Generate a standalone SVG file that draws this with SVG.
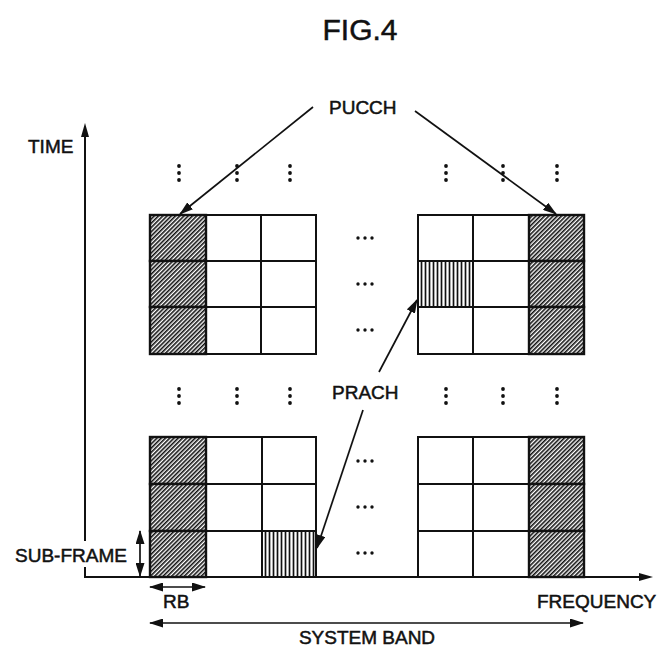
<svg xmlns="http://www.w3.org/2000/svg" width="658" height="648" viewBox="0 0 658 648">
<style>
text{font-family:"Liberation Sans",Arial,sans-serif;fill:#111;stroke:#111;stroke-width:0.5;}
.lbl{font-size:19px;}
.cell{fill:#fff;stroke:#111;stroke-width:2;}
.pucch{fill:url(#hatch);stroke:#111;stroke-width:2.4;}
.prach{fill:url(#vstripe);stroke:#111;stroke-width:2;}
.axis{stroke:#111;stroke-width:2;fill:none;}
.conn{stroke:#111;stroke-width:1.7;fill:none;}
.dot{fill:#111;}
</style>
<defs>
<pattern id="hatch" patternUnits="userSpaceOnUse" width="3" height="3" patternTransform="rotate(45)">
<rect width="3" height="3" fill="#fff"/>
<line x1="0.8" y1="0" x2="0.8" y2="3" stroke="#111" stroke-width="1.6"/>
</pattern>
<pattern id="vstripe" patternUnits="userSpaceOnUse" width="4" height="4">
<rect width="4" height="4" fill="#fff"/>
<line x1="1.5" y1="0" x2="1.5" y2="4" stroke="#111" stroke-width="1.7"/>
</pattern>
<marker id="ah" markerWidth="14" markerHeight="9" refX="13" refY="4.5" orient="auto" markerUnits="userSpaceOnUse">
<path d="M0,0 L14,4.5 L0,9 Z" fill="#111"/>
</marker>
<marker id="ahs" markerWidth="14" markerHeight="9" refX="1" refY="4.5" orient="auto" markerUnits="userSpaceOnUse">
<path d="M14,0 L0,4.5 L14,9 Z" fill="#111"/>
</marker>
<g id="vdots"><circle cx="0" cy="0" r="1.9" class="dot"/><circle cx="0" cy="7" r="1.9" class="dot"/><circle cx="0" cy="14" r="1.9" class="dot"/></g>
<g id="hdots"><circle cx="0" cy="0" r="1.7" class="dot"/><circle cx="7" cy="0" r="1.7" class="dot"/><circle cx="14" cy="0" r="1.7" class="dot"/></g>
</defs>
<rect width="658" height="648" fill="#fff"/>

<text x="360" y="40" font-size="30" text-anchor="middle">FIG.4</text>

<!-- axes -->
<g id="axes">
<line class="axis" x1="85" y1="130" x2="85" y2="541"/>
<line class="axis" x1="85" y1="567" x2="85" y2="577"/>
<path d="M85,123 L81,137 L89,137 Z" fill="#111"/>
<line class="axis" x1="84" y1="577" x2="645" y2="577"/>
<path d="M653,577 L639,573 L639,581 Z" fill="#111"/>
<text class="lbl" x="28" y="153">TIME</text>
<text class="lbl" x="537" y="608">FREQUENCY</text>
</g>

<!-- top-left grid -->
<g id="grid-top-left">
<rect class="cell" x="206" y="215" width="55" height="46"/>
<rect class="cell" x="261" y="215" width="55" height="46"/>
<rect class="cell" x="206" y="261" width="55" height="46"/>
<rect class="cell" x="261" y="261" width="55" height="46"/>
<rect class="cell" x="206" y="307" width="55" height="47"/>
<rect class="cell" x="261" y="307" width="55" height="47"/>
<rect class="pucch" x="150" y="215" width="56" height="46"/>
<rect class="pucch" x="150" y="261" width="56" height="46"/>
<rect class="pucch" x="150" y="307" width="56" height="47"/>
</g>

<!-- top-right grid -->
<g id="grid-top-right">
<rect class="cell" x="418" y="215" width="55" height="46"/>
<rect class="cell" x="473" y="215" width="56" height="46"/>
<rect class="cell" x="473" y="261" width="56" height="46"/>
<rect class="cell" x="418" y="307" width="55" height="47"/>
<rect class="cell" x="473" y="307" width="56" height="47"/>
<rect class="prach" x="418" y="261" width="55" height="46"/>
<rect class="pucch" x="529" y="215" width="55" height="46"/>
<rect class="pucch" x="529" y="261" width="55" height="46"/>
<rect class="pucch" x="529" y="307" width="55" height="47"/>
</g>

<!-- bottom-left grid -->
<g id="grid-bottom-left">
<rect class="cell" x="206" y="437" width="56" height="47"/>
<rect class="cell" x="262" y="437" width="54" height="47"/>
<rect class="cell" x="206" y="484" width="56" height="47"/>
<rect class="cell" x="262" y="484" width="54" height="47"/>
<rect class="cell" x="206" y="531" width="56" height="46"/>
<rect class="prach" x="262" y="531" width="54" height="46"/>
<rect class="pucch" x="150" y="437" width="56" height="47"/>
<rect class="pucch" x="150" y="484" width="56" height="47"/>
<rect class="pucch" x="150" y="531" width="56" height="46"/>
</g>

<!-- bottom-right grid -->
<g id="grid-bottom-right">
<rect class="cell" x="418" y="437" width="55" height="47"/>
<rect class="cell" x="473" y="437" width="56" height="47"/>
<rect class="cell" x="418" y="484" width="55" height="47"/>
<rect class="cell" x="473" y="484" width="56" height="47"/>
<rect class="cell" x="418" y="531" width="55" height="46"/>
<rect class="cell" x="473" y="531" width="56" height="46"/>
<rect class="pucch" x="529" y="437" width="55" height="47"/>
<rect class="pucch" x="529" y="484" width="55" height="47"/>
<rect class="pucch" x="529" y="531" width="55" height="46"/>
</g>

<!-- ellipses -->
<g id="ellipses">
<use href="#vdots" x="179" y="166"/>
<use href="#vdots" x="237" y="166"/>
<use href="#vdots" x="290" y="166"/>
<use href="#vdots" x="446" y="166"/>
<use href="#vdots" x="503" y="166"/>
<use href="#vdots" x="557" y="166"/>
<use href="#vdots" x="179" y="389"/>
<use href="#vdots" x="237" y="389"/>
<use href="#vdots" x="290" y="389"/>
<use href="#vdots" x="446" y="389"/>
<use href="#vdots" x="503" y="389"/>
<use href="#vdots" x="557" y="389"/>
<use href="#hdots" x="358" y="238"/>
<use href="#hdots" x="358" y="284"/>
<use href="#hdots" x="358" y="330"/>
<use href="#hdots" x="358" y="461"/>
<use href="#hdots" x="358" y="507"/>
<use href="#hdots" x="358" y="553"/>
</g>

<!-- labels -->
<g id="label-pucch"><text class="lbl" x="329" y="114">PUCCH</text></g>
<g id="label-prach"><text class="lbl" x="332" y="399">PRACH</text></g>
<g id="label-subframe"><text class="lbl" x="15" y="562">SUB-FRAME</text></g>
<g id="label-rb"><text class="lbl" x="163" y="608">RB</text></g>
<g id="label-systemband"><text class="lbl" x="367" y="644" text-anchor="middle">SYSTEM BAND</text></g>

<!-- connectors -->
<g id="connectors">
<line class="conn" x1="313" y1="107" x2="180" y2="214" marker-end="url(#ah)"/>
<line class="conn" x1="415" y1="111" x2="556" y2="214" marker-end="url(#ah)"/>
<line class="conn" x1="379" y1="372" x2="417" y2="300" marker-end="url(#ah)"/>
<line class="conn" x1="363" y1="410" x2="317" y2="548" marker-end="url(#ah)"/>
<line class="conn" x1="140" y1="531" x2="140" y2="576" marker-start="url(#ahs)" marker-end="url(#ah)"/>
<line class="conn" x1="150" y1="587" x2="205" y2="587" marker-start="url(#ahs)" marker-end="url(#ah)"/>
<line class="conn" x1="150" y1="623" x2="583" y2="623" marker-start="url(#ahs)" marker-end="url(#ah)"/>
</g>
</svg>
